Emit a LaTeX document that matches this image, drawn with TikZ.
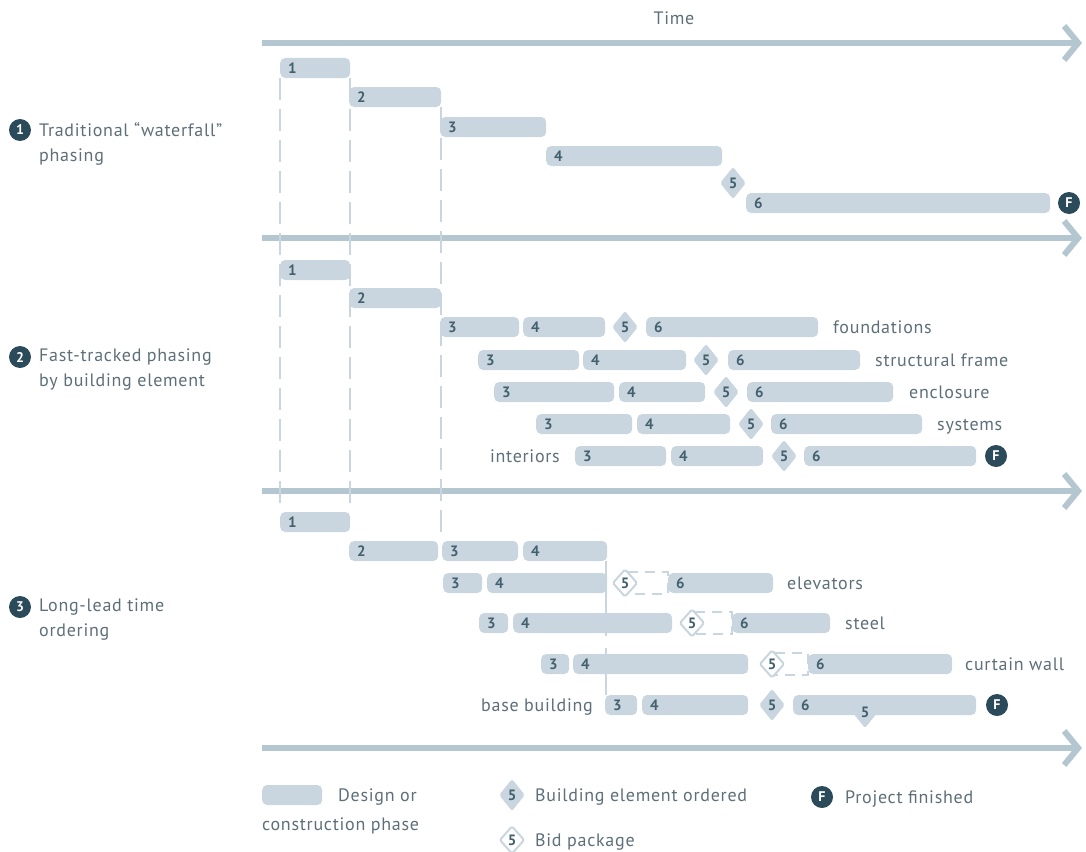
\documentclass[tikz,border=0pt]{standalone}
\usepackage{fontspec}
\setmainfont[LetterSpace=4]{PT Sans}
\newfontfamily\numfont{PT Sans}
\usetikzlibrary{shapes.geometric,arrows.meta}
\definecolor{barfill}{HTML}{C9D6DF}
\definecolor{axisline}{HTML}{B4C6D0}
\definecolor{numtext}{HTML}{42606D}
\definecolor{lbltext}{HTML}{5D6F78}
\definecolor{darkmark}{HTML}{2C4B5A}
\tikzset{phase/.style={fill=barfill,rounded corners=5pt,anchor=west,
        minimum height=20pt,inner xsep=8pt,inner ysep=0pt,align=left,
        text=numtext,font=\numfont\fontsize{15}{15}\selectfont\bfseries},
    ordered/.style={diamond,fill=barfill,minimum width=26pt,minimum height=32pt,
        inner sep=0pt,rounded corners=2pt,text=numtext,
        font=\numfont\fontsize{15}{15}\selectfont\bfseries},
    bidpkg/.style={diamond,draw=barfill,line width=2pt,fill=white,
        minimum width=25pt,minimum height=28pt,inner sep=0pt,rounded corners=1.5pt,
        text=numtext,font=\numfont\fontsize{15}{15}\selectfont\bfseries},
    badge/.style={circle,fill=darkmark,text=white,minimum size=22pt,inner sep=0pt,
        font=\numfont\fontsize{14}{14}\selectfont\bfseries},
    lbl/.style={text=lbltext,inner sep=0pt,text height=16pt,text depth=3pt,
        font=\fontsize{18}{24}\selectfont},
    sectlbl/.style={text=lbltext,inner sep=0pt,anchor=north west,align=left,
        font=\fontsize{18}{25}\selectfont},
    timeline/.style={draw=axisline,line width=6pt,
        -{Straight Barb[length=14pt,width=34pt,line width=6pt]}},
    guide/.style={draw=barfill,line width=2pt,dash pattern=on 22pt off 9pt},
    bidline/.style={draw=barfill,line width=2pt,dash pattern=on 10pt off 7pt},
    leadline/.style={draw=barfill,line width=2pt,dash pattern=on 75pt off 12pt}}

% one phase bar: name, left x, right x, y, number
\newcommand{\phasebar}[5]{%
    \pgfmathsetmacro{\barw}{#3-#2-16}%
    \node[phase,text width=\barw pt] (#1) at (#2,#4) {#5};}

\begin{document}
\begin{tikzpicture}[x=1pt,y=-1pt]
\useasboundingbox (0,0) rectangle (1086,851);

% time axes
\node[lbl] (time) at (674,18) {Time};
\foreach \ty [count=\i] in {43,238,491,748}{
    \coordinate (ax\i) at (262,\ty);
    \coordinate (az\i) at (1082,\ty);
    \draw[timeline] (ax\i) -- (az\i);
}

% section titles
\node[badge] (m1) at (20,130) {1};
\node[sectlbl] (t1) at (39,122) {Traditional “waterfall”\\phasing};
\node[badge] (m2) at (20,357) {2};
\node[sectlbl] (t2) at (39,349) {Fast-tracked phasing\\by building element};
\node[badge] (m3) at (20,607) {3};
\node[sectlbl] (t3) at (39,599) {Long-lead time\\ordering};

% waterfall
\phasebar{s1p1}{280}{350}{68}{1}
\phasebar{s1p2}{349}{441}{97}{2}
\phasebar{s1p3}{440}{546}{127}{3}
\phasebar{s1p4}{546}{722}{156}{4}
\node[ordered] (s1p5) at (733,183) {5};
\phasebar{s1p6}{746}{1050}{203}{6}
\node[badge] (s1fin) at (1069,203) {F};

% fast-tracked
\phasebar{s2p1}{280}{350}{270}{1}
\phasebar{s2p2}{349}{441}{298}{2}
\phasebar{fo3}{440}{519}{327}{3}
\phasebar{fo4}{523}{605}{327}{4}
\node[ordered] (fo5) at (625,327) {5};
\phasebar{fo6}{646}{818}{327}{6}
\node[lbl,anchor=west] (fol) at (833,327) {foundations};
\phasebar{sf3}{478}{579}{360}{3}
\phasebar{sf4}{583}{686}{360}{4}
\node[ordered] (sf5) at (706,360) {5};
\phasebar{sf6}{728}{860}{360}{6}
\node[lbl,anchor=west] (sfl) at (875,360) {structural frame};
\phasebar{en3}{494}{614}{392}{3}
\phasebar{en4}{619}{705}{392}{4}
\node[ordered] (en5) at (726,392) {5};
\phasebar{en6}{747}{893}{392}{6}
\node[lbl,anchor=west] (enl) at (909,392) {enclosure};
\phasebar{sy3}{536}{632}{424}{3}
\phasebar{sy4}{637}{730}{424}{4}
\node[ordered] (sy5) at (751,424) {5};
\phasebar{sy6}{771}{922}{424}{6}
\node[lbl,anchor=west] (syl) at (937,424) {systems};
\node[lbl,anchor=east] (inl) at (560,456) {interiors};
\phasebar{in3}{575}{666}{456}{3}
\phasebar{in4}{671}{763}{456}{4}
\node[ordered] (in5) at (784,456) {5};
\phasebar{in6}{804}{976}{456}{6}
\node[badge] (s2fin) at (996,456) {F};

% long-lead ordering
\phasebar{s3p1}{280}{350}{522}{1}
\phasebar{s3p2}{349}{438}{551}{2}
\phasebar{s3p3}{442}{518}{551}{3}
\phasebar{s3p4}{523}{607}{551}{4}
\phasebar{el3}{443}{482}{583}{3}
\phasebar{el4}{487}{607}{583}{4}
\phasebar{el6}{668}{773}{583}{6}
\node[lbl,anchor=west] (ell) at (787,583) {elevators};
\phasebar{st3}{479}{508}{623}{3}
\phasebar{st4}{513}{672}{623}{4}
\phasebar{st6}{732}{830}{623}{6}
\node[lbl,anchor=west] (stl) at (845,623) {steel};
\phasebar{cw3}{541}{569}{664}{3}
\phasebar{cw4}{573}{748}{664}{4}
\phasebar{cw6}{808}{952}{664}{6}
\node[lbl,anchor=west] (cwl) at (965,664) {curtain wall};
\node[lbl,anchor=east] (bbl) at (593,705) {base building};
\phasebar{bb3}{605}{637}{705}{3}
\phasebar{bb4}{642}{748}{705}{4}
\node[ordered] (bb5) at (772,705) {5};
\phasebar{bb6}{793}{976}{705}{6}
\node[ordered] (bb5b) at (865,712) {5};
\node[badge] (s3fin) at (997,705) {F};

% bid packages, dashed up to the installation
\foreach \r/\bx in {el/625,st/692,cw/772}{
    \coordinate (\r5) at (\bx,0 |- \r6.west);
    \draw[bidline] ([xshift=3pt,yshift=11pt]\r5) -- ([yshift=11pt]\r6.west)
        -- ([yshift=-11pt]\r6.west) -- ([xshift=3pt,yshift=-11pt]\r5);
    \node[bidpkg] (\r5b) at (\r5) {5};
}

% phase boundaries
\draw[guide,shorten >=6pt] (s1p1.south west) -- (s3p1.north west);
\draw[guide,shorten >=6pt] (s1p1.south east) -- (s3p1.north east);
\draw[guide,shorten >=4pt] (s1p2.south east) -- (s1p2.south east |- s3p3.north);
\draw[leadline] ([xshift=-1pt]s3p4.south east) -- ([xshift=-1pt]s3p4.south east |- bb3.north);

% legend
\phasebar{lgbar}{262}{322}{795}{}
\node[lbl,anchor=west] (lgbart) at (338,795) {Design or};
\node[lbl,anchor=west] (lgbart2) at (262,824) {construction phase};
\node[ordered] (lgord) at (512,795) {5};
\node[lbl,anchor=west] (lgordt) at (535,795) {Building element ordered};
\node[bidpkg] (lgbid) at (512,840) {5};
\node[lbl,anchor=west] (lgbidt) at (535,840) {Bid package};
\node[badge] (lgfin) at (822,797) {F};
\node[lbl,anchor=west] (lgfint) at (845,797) {Project finished};
\end{tikzpicture}
\end{document}
